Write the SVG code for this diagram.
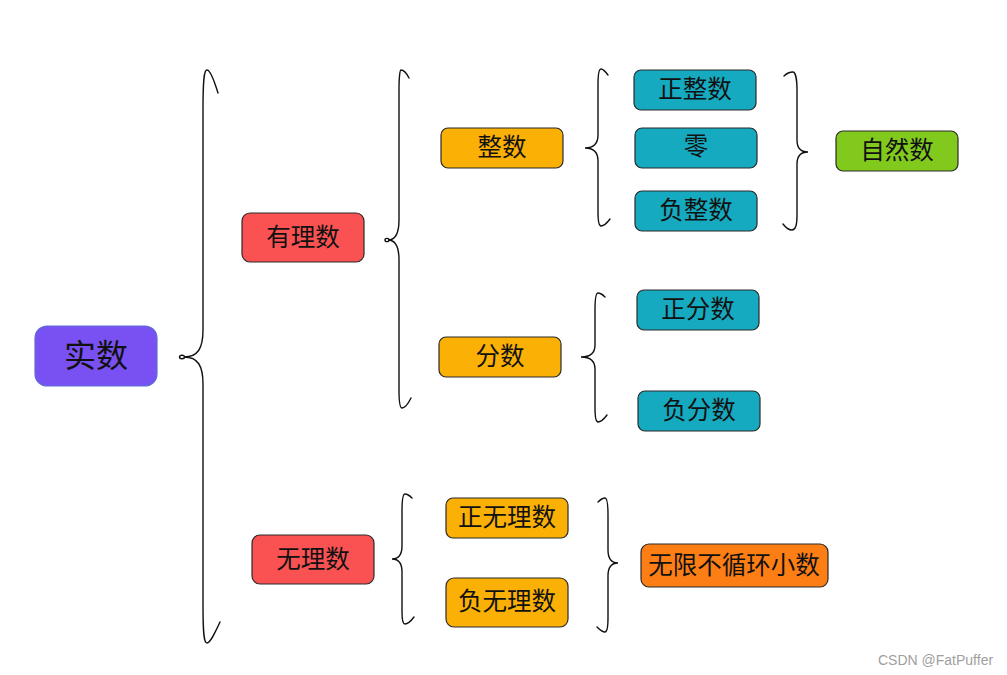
<svg xmlns="http://www.w3.org/2000/svg" width="1007" height="675" viewBox="0 0 1007 675">
<style>
.n rect{stroke:#2b2b2b;stroke-width:1.2}
.n text{font-family:"Noto Sans CJK SC","Noto Sans",sans-serif;font-size:24.5px;fill:#111;text-anchor:middle;dominant-baseline:central}
.b{fill:none;stroke:#111;stroke-width:1.4;stroke-linecap:round}
.wm{font-family:"Liberation Sans",Arial,sans-serif;font-size:14px;fill:#a0a0a0}
</style>
<rect width="1007" height="675" fill="#fff"/>
<g id="connectors">
<path class="b" d="M218,93 C214,80 210,70 207,70 C204,70 203,80 203,110 L203,330 C203,348 198,357 184,357 C198,357 203,366 203,384 L203,605 C203,635 204,643 207,643 C210,643 214,635 220,622"/>
<ellipse class="b" cx="182" cy="357" rx="2.5" ry="1.8"/>
<path class="b" d="M409,78 C406,72 403,70 401,70 C400,70 399,76 399,90 L399,220 C399,233 396,240 388,240 C396,240 399,247 399,260 L399,390 C399,404 400,408 402,408 C405,408 408,404 411,398"/>
<ellipse class="b" cx="387" cy="240" rx="2" ry="1.6"/>
<path class="b" d="M608,75 C605,71 603,69 601,69 C599,69 598,74 598,85 L598,135 C598,144 594,148 585,148 C594,148 598,152 598,161 L598,212 C598,222 599,226 601,226 C604,226 607,223 610,219"/>
<path class="b" d="M784,76 C788,72 791,72 793,72 C795,72 797,78 797,90 L797,140 C797,148 800,152 808,152 C800,152 797,156 797,164 L797,216 C797,226 795,230 792,230 C789,230 786,228 783,224"/>
<path class="b" d="M605,297 C602,294 600,293 598,293 C596,293 595,298 595,310 L595,345 C595,353 591,357 581,357 C591,357 595,361 595,369 L595,408 C595,418 596,422 598,422 C601,422 604,419 607,415"/>
<path class="b" d="M412,498 C409,495 407,494 405,494 C403,494 402,499 402,511 L402,546 C402,554 399,559 392,559 C399,559 402,564 402,572 L402,612 C402,621 403,624 405,624 C408,624 411,621 414,617"/>
<path class="b" d="M598,502 C601,499 603,498 605,498 C607,498 608,503 608,515 L608,550 C608,558 611,563 618,563 C611,563 608,568 608,576 L608,618 C608,627 607,632 605,632 C602,632 600,630 597,627"/>
</g>
<g id="n-shishu" class="n"><rect x="35" y="326" width="122" height="60" rx="12" fill="#7950f2" style="stroke:#5c6fd6"/><text x="96" y="353" style="font-size:32px">实数</text></g>
<g id="n-youlishu" class="n"><rect x="242" y="213" width="122" height="49" rx="8" fill="#fa5252"/><text x="303" y="235">有理数</text></g>
<g id="n-wulishu" class="n"><rect x="252" y="535" width="122" height="49" rx="8" fill="#fa5252"/><text x="313" y="557">无理数</text></g>
<g id="n-zhengshu" class="n"><rect x="441" y="128" width="122" height="40" rx="7" fill="#fab005"/><text x="502" y="145">整数</text></g>
<g id="n-fenshu" class="n"><rect x="439" y="337" width="122" height="40" rx="7" fill="#fab005"/><text x="500" y="354">分数</text></g>
<g id="n-zhengzhengshu" class="n"><rect x="634" y="70" width="122" height="40" rx="7" fill="#15aabf"/><text x="695" y="87">正整数</text></g>
<g id="n-ling" class="n"><rect x="635" y="128" width="122" height="40" rx="7" fill="#15aabf"/><text x="696" y="144">零</text></g>
<g id="n-fuzhengshu" class="n"><rect x="635" y="191" width="122" height="40" rx="7" fill="#15aabf"/><text x="696" y="208">负整数</text></g>
<g id="n-ziranshu" class="n"><rect x="836" y="131" width="122" height="40" rx="7" fill="#82c91e"/><text x="897" y="148">自然数</text></g>
<g id="n-zhengfenshu" class="n"><rect x="637" y="290" width="122" height="40" rx="7" fill="#15aabf"/><text x="698" y="307">正分数</text></g>
<g id="n-fufenshu" class="n"><rect x="638" y="391" width="122" height="40" rx="7" fill="#15aabf"/><text x="699" y="408">负分数</text></g>
<g id="n-zhengwulishu" class="n"><rect x="446" y="498" width="122" height="40" rx="7" fill="#fab005"/><text x="507" y="515">正无理数</text></g>
<g id="n-fuwulishu" class="n"><rect x="446" y="578" width="122" height="49" rx="8" fill="#fab005"/><text x="507" y="599">负无理数</text></g>
<g id="n-wuxian" class="n"><rect x="641" y="544" width="187" height="43" rx="8" fill="#fd7e14"/><text x="734" y="563">无限不循环小数</text></g>
<text class="wm" x="878" y="665">CSDN @FatPuffer</text>
</svg>
